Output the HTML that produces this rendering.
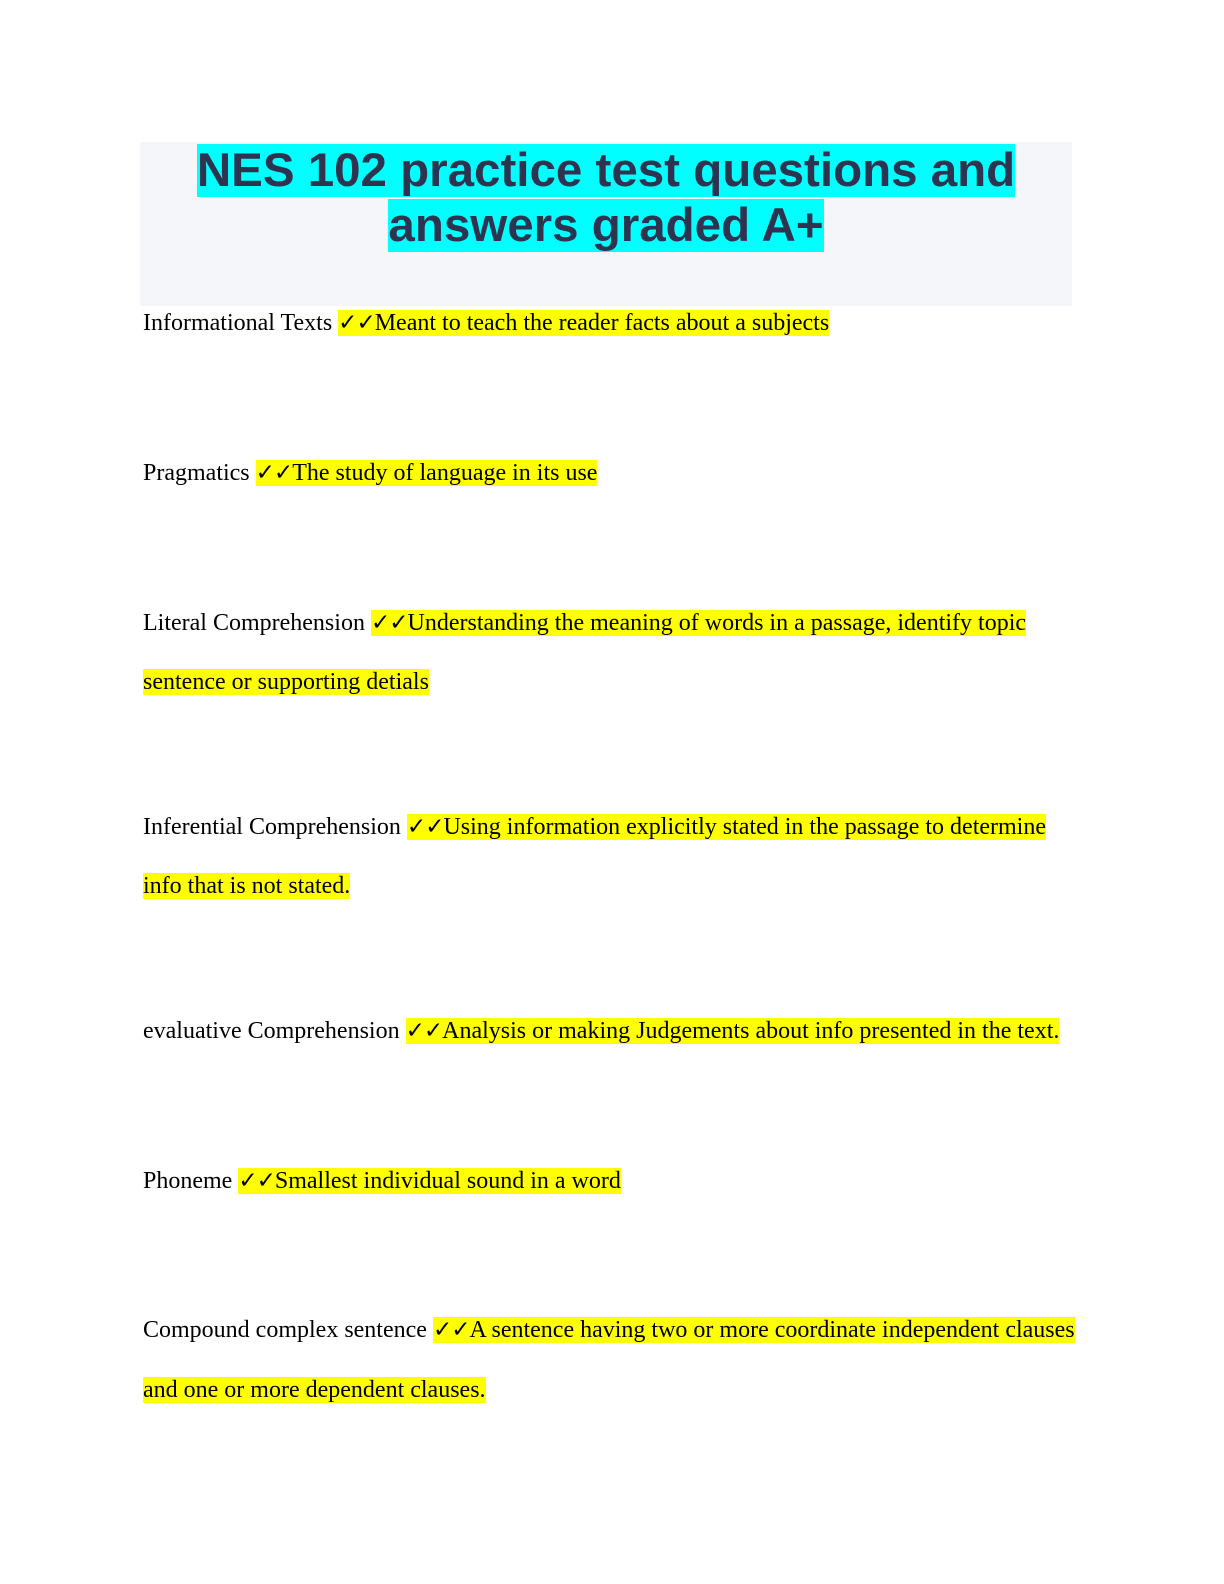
<!DOCTYPE html>
<html><head><meta charset="utf-8"><style>
body{margin:0;width:1224px;height:1584px;background:#fff;position:relative;overflow:hidden}
.tbox{position:absolute;left:140px;top:142px;width:932px;height:164px;background:#f5f6fa}
.t{position:absolute;left:140px;width:932px;text-align:center;font:bold 47.5px/55px "Liberation Sans",sans-serif;color:#2e3350}
.t span{background:#00ffff}
.l{position:absolute;left:143px;font:24px/32px "Liberation Serif",serif;color:#000;white-space:nowrap}
.h{background:#ffff00}
.c{font-family:"DejaVu Sans",sans-serif;font-weight:bold;font-size:23px;letter-spacing:-1px}
</style></head><body>
<div class="tbox"></div>
<div class="t" style="top:143px"><span>NES 102 practice test questions and</span></div>
<div class="t" style="top:198px"><span>answers graded A+</span></div>

<div class="l" style="top:307px">Informational Texts <span class="h"><span class="c">✓✓</span>Meant to teach the reader facts about a subjects</span></div>
<div class="l" style="top:457px">Pragmatics <span class="h"><span class="c">✓✓</span>The study of language in its use</span></div>
<div class="l" style="top:607px">Literal Comprehension <span class="h"><span class="c">✓✓</span>Understanding the meaning of words in a passage, identify topic</span></div>
<div class="l" style="top:666px"><span class="h">sentence or supporting detials</span></div>
<div class="l" style="top:811px">Inferential Comprehension <span class="h"><span class="c">✓✓</span>Using information explicitly stated in the passage to determine</span></div>
<div class="l" style="top:870px"><span class="h">info that is not stated.</span></div>
<div class="l" style="top:1015px">evaluative Comprehension <span class="h"><span class="c">✓✓</span>Analysis or making Judgements about info presented in the text.</span></div>
<div class="l" style="top:1165px">Phoneme <span class="h"><span class="c">✓✓</span>Smallest individual sound in a word</span></div>
<div class="l" style="top:1314px">Compound complex sentence <span class="h"><span class="c">✓✓</span>A sentence having two or more coordinate independent clauses</span></div>
<div class="l" style="top:1374px"><span class="h">and one or more dependent clauses.</span></div>
</body></html>
